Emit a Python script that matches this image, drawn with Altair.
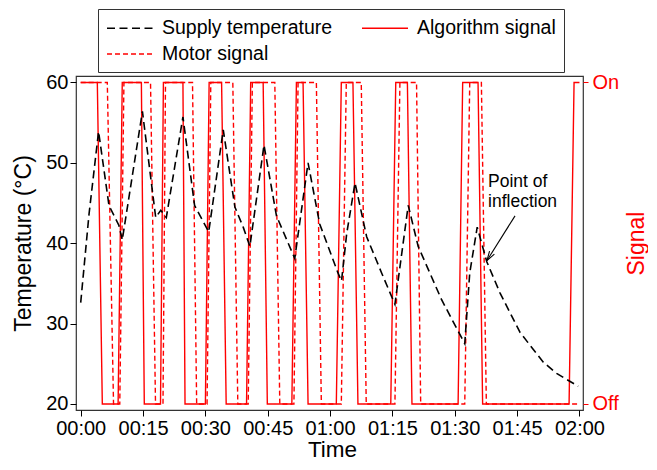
import altair as alt
import pandas as pd

# ---- data ----
x_ticks = [0, 15, 30, 45, 60, 75, 90, 105, 120]
y_ticks = [20, 30, 40, 50, 60]
signal_ticks = [20, 60]
signal_labels = ["Off", "On"]
# legend fills column by column: Supply / Motor in column 1, Algorithm in column 2
series_names = ["Supply temperature", "Motor signal", "Algorithm signal"]
series_colors = ["#000000", "#ff0000", "#ff0000"]
series_dashes = [[8, 4.5], [5, 3], [1, 0]]

temp_t = [0.0, 2.0, 4.3, 6.8, 9.2, 10.0, 14.85, 18.05, 19.26, 20.6, 24.6, 27.4, 30.8,
          34.3, 37.1, 39.1, 40.7, 44.1, 47.1, 51.5, 54.7, 57.5, 61.9, 62.75, 64.0, 66.0,
          68.8, 72.4, 75.6, 78.8, 81.2, 86.8, 92.4, 93.6, 95.4, 97.7, 100.9, 105.7,
          111.3, 114.5, 119.7]
temp_v = [32.6, 43.6, 53.9, 44.7, 42.2, 40.4, 56.4, 43.2, 44.1, 43.2, 55.7, 44.7, 41.4,
          54.1, 44.5, 42.0, 39.6, 52.2, 43.4, 38.1, 50.0, 42.4, 36.3, 35.3, 41.2, 47.5,
          40.8, 36.3, 32.4, 44.7, 39.6, 33.0, 27.5, 36.3, 42.0, 37.7, 33.8, 28.9,
          25.2, 23.8, 22.2]

algo_t = [0, 4.0, 5.2, 9.0, 10.0, 14.6, 15.3, 19.2, 19.9, 24.6, 25.1, 30.0, 30.9,
          33.9, 35.0, 39.9, 40.9, 43.9, 44.9, 50.8, 51.9, 53.5, 54.7, 61.5, 62.7,
          65.5, 66.7, 74.6, 75.8, 78.6, 79.7, 90.8, 91.9, 95.6, 96.7, 117.5, 118.7, 120]
algo_v = [60, 60, 20, 20, 60, 60, 20, 20, 60, 60, 20, 20, 60,
          60, 20, 20, 60, 60, 20, 20, 60, 60, 20, 20, 60,
          60, 20, 20, 60, 60, 20, 20, 60, 60, 20, 20, 60, 60]

motor_t = [0, 6.4, 7.9, 9.4, 10.4, 16.8, 18.0, 19.8, 20.4, 26.9, 27.9, 30.4, 31.3,
           36.6, 37.8, 40.3, 41.3, 46.7, 47.9, 51.3, 52.3, 56.7, 57.9, 62.7, 63.9,
           67.5, 68.7, 75.6, 76.8, 80.8, 81.8, 92.4, 93.6, 96.4, 97.6, 120]
motor_v = [60, 60, 20, 20, 60, 60, 20, 20, 60, 60, 20, 20, 60,
           60, 20, 20, 60, 60, 20, 20, 60, 60, 20, 20, 60,
           60, 20, 20, 60, 60, 20, 20, 60, 60, 20, 20]

note_t = [98.0, 98.0]
note_v = [46.96, 44.5]
note_text = ["Point of", "inflection"]
arrow_t = [104.5, 97.75]
arrow_v = [43.4, 37.85]
head_t = [98.34]
head_v = [38.32]

# ---- tables ----
temp_df = pd.DataFrame({"t": temp_t, "v": temp_v, "series": "Supply temperature"})
algo_df = pd.DataFrame({"t": algo_t, "v": algo_v, "series": "Algorithm signal"})
motor_df = pd.DataFrame({"t": motor_t, "v": motor_v, "series": "Motor signal"})
note_df = pd.DataFrame({"t": note_t, "v": note_v, "label": note_text})
arrow_df = pd.DataFrame({"t": arrow_t, "v": arrow_v})
head_df = pd.DataFrame({"t": head_t, "v": head_v})

FONT = "Liberation Sans"
x_scale = alt.Scale(domain=[-1.13, 120.85], nice=False, zero=False)
y_scale = alt.Scale(domain=[19.25, 60.8], nice=False, zero=False)
color_scale = alt.Scale(domain=series_names, range=series_colors)
dash_scale = alt.Scale(domain=series_names, range=series_dashes)

legend = alt.Legend(
    title=None, orient="none", legendX=22, legendY=-67, columns=2,
    columnPadding=26, rowPadding=5, symbolType="M-1,0L3.6,0", symbolSize=400,
    symbolStrokeWidth=1.5, labelFont=FONT, labelFontSize=19.5, labelLimit=400,
    labelOffset=34, padding=8, strokeColor="#333333", fillColor="white",
    labelColor="black",
)

x_axis = alt.Axis(
    values=x_ticks,
    labelExpr="format(floor(datum.value / 60), '02d') + ':' + format(datum.value % 60, '02d')",
    title="Time", titleFont=FONT, titleFontSize=22.5, titleFontWeight="normal",
    titleX=256, titleY=46, titleAlign="center", titleBaseline="alphabetic",
    labelFont=FONT, labelFontSize=20, labelColor="black", labelPadding=2,
    labelFlush=False, tickSize=6, tickColor="black", domain=False, grid=False,
    titleColor="black",
)

left_axis = alt.Axis(
    orient="left", values=y_ticks, title="Temperature (°C)", titleFont=FONT,
    titleFontSize=23, titleFontWeight="normal", titleAngle=270, titleX=-53,
    titleY=167, titleAlign="center", titleBaseline="middle", titleColor="black",
    labelFont=FONT, labelFontSize=20, labelColor="black", labelPadding=2,
    tickSize=6, tickColor="black", domain=False, grid=False,
)

label_expr = " : ".join(
    [f"datum.value == {v} ? '{l}'" for v, l in zip(signal_ticks, signal_labels)]
) + " : ''"
right_axis = alt.Axis(
    orient="right", values=signal_ticks, labelExpr=label_expr, title="Signal",
    titleFont=FONT, titleFontSize=23, titleFontWeight="normal", titleAngle=270,
    titleX=53, titleY=167, titleAlign="center", titleBaseline="middle",
    titleColor="red", labelFont=FONT, labelFontSize=20, labelColor="red",
    labelPadding=4, tickSize=5, tickColor="red", domain=False, grid=False,
)

def series_line(df, axis, width):
    return alt.Chart(df).mark_line(strokeWidth=width).encode(
        x=alt.X("t:Q", scale=x_scale, axis=x_axis),
        y=alt.Y("v:Q", scale=y_scale, axis=axis),
        color=alt.Color("series:N", scale=color_scale, legend=legend),
        strokeDash=alt.StrokeDash("series:N", scale=dash_scale, legend=legend),
    )

algo = series_line(algo_df, right_axis, 1.4)
motor = series_line(motor_df, None, 1.4)
temp = series_line(temp_df, left_axis, 1.6)

note = alt.Chart(note_df).mark_text(
    align="left", baseline="alphabetic", font=FONT, fontSize=17.5, color="black"
).encode(
    x=alt.X("t:Q", scale=x_scale),
    y=alt.Y("v:Q", scale=y_scale, axis=None),
    text="label:N",
)
arrow = alt.Chart(arrow_df).mark_line(color="black", strokeWidth=1.1).encode(
    x=alt.X("t:Q", scale=x_scale),
    y=alt.Y("v:Q", scale=y_scale, axis=None),
)
head = alt.Chart(head_df).mark_point(
    shape="M-0.6,1L0,-1L0.6,1", filled=False, size=90, angle=212,
    color="black", strokeWidth=1.1, opacity=1,
).encode(
    x=alt.X("t:Q", scale=x_scale),
    y=alt.Y("v:Q", scale=y_scale, axis=None),
)

chart = (
    alt.layer(algo, motor, temp, arrow, head, note)
    .resolve_scale(y="independent")
    .properties(
        width=507, height=334,
        padding={"left": 68, "top": 68, "right": 65, "bottom": 52},
        autosize=alt.AutoSizeParams(type="none"),
        background="white",
    )
    .configure(font=FONT)
    .configure_view(stroke="#333333", strokeWidth=1.2)
)

chart.save("out.html", embed_options={"renderer": "svg", "actions": False})
